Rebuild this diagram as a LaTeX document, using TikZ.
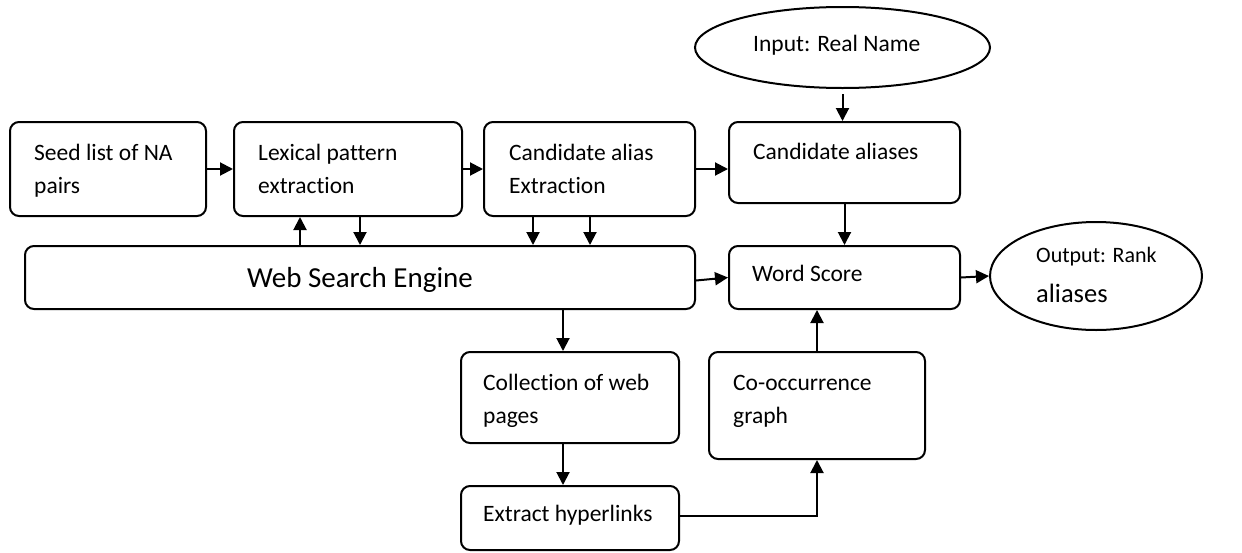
\documentclass[tikz,border=0pt]{standalone}
\usepackage{fontspec}
\setmainfont[Ligatures=CommonOff]{Carlito}
\usetikzlibrary{arrows.meta,shapes.geometric}
\begin{document}
\begin{tikzpicture}[x=1pt,y=-1pt,
  box/.style={draw,line width=2pt,rounded corners=9pt,inner sep=0pt},
  oval/.style={draw,line width=2pt,ellipse,inner sep=0pt},
  arr/.style={line width=2pt,-{Triangle[length=13pt,width=13pt]}},
  lbl/.style={anchor=base west,inner sep=0pt,align=left,font=\fontsize{23.5}{33}\selectfont}]
\useasboundingbox (0,0) rectangle (1242,552);

% boxes
\node[box,minimum width=196pt,minimum height=94pt] (seed) at (108,169) {};
\node[box,minimum width=228pt,minimum height=94pt] (lex) at (348,169) {};
\node[box,minimum width=211pt,minimum height=94pt] (cae) at (589.5,169) {};
\node[box,minimum width=231pt,minimum height=81pt] (ca) at (844.5,162.5) {};
\node[oval,minimum width=295pt,minimum height=81pt] (inp) at (842.5,47.5) {};
\node[box,minimum width=670pt,minimum height=63pt] (wse) at (360,277.5) {};
\node[box,minimum width=231pt,minimum height=63pt] (ws) at (844.5,277.5) {};
\node[oval,minimum width=212pt,minimum height=108pt] (out) at (1096,276) {};
\node[box,minimum width=218pt,minimum height=91pt] (coll) at (570,397.5) {};
\node[box,minimum width=218pt,minimum height=64pt] (ext) at (570,518) {};
\node[box,minimum width=216pt,minimum height=107pt] (cooc) at (817,405.5) {};

% labels (base anchor sits on the last line of each label)
\node[lbl] (tseed) at (34,193) {Seed list of NA\\pairs};
\node[lbl] (tlex) at (258,193) {Lexical pattern\\extraction};
\node[lbl] (tcae) at (509,193) {Candidate alias\\Extraction};
\node[lbl] (tca) at (753,159) {Candidate aliases};
\node[lbl] (tinp) at (753,51) {Input: Real Name};
\node[anchor=base,inner sep=0pt,font=\fontsize{29}{33}\selectfont] (twse) at (360,287.5) {Web Search Engine};
\node[lbl] (tws) at (752,281) {Word Score};
\node[anchor=base west,inner sep=0pt,font=\fontsize{22}{26}\selectfont] (tout1) at (1036,262) {Output: Rank};
\node[anchor=base west,inner sep=0pt,font=\fontsize{26.5}{30}\selectfont] (tout2) at (1036,302) {aliases};
\node[lbl] (tcoll) at (483,423) {Collection of web\\pages};
\node[lbl] (tcooc) at (733,423) {Co-occurrence\\graph};
\node[lbl] (text) at (483,521) {Extract hyperlinks};

% connectors
\draw[arr] (seed.east) -- (lex.west);
\draw[arr] (lex.east) -- (cae.west);
\draw[arr] (cae.east) -- (cae.east -| ca.west);
\draw[arr,shorten <=5pt] (inp.south) -- (inp.south |- ca.north);
\draw[arr] ([xshift=-48pt]lex.south |- wse.north) -- ([xshift=-48pt]lex.south);
\draw[arr] ([xshift=12pt]lex.south) -- ([xshift=12pt]lex.south |- wse.north);
\draw[arr] ([xshift=-56.5pt]cae.south) -- ([xshift=-56.5pt]cae.south |- wse.north);
\draw[arr] ([xshift=0.5pt]cae.south) -- ([xshift=0.5pt]cae.south |- wse.north);
\draw[arr] (ca.south) -- (ws.north);
\draw[arr] ([yshift=-3pt]wse.east) -- (ws.west);
\draw[arr] (ws.east) -- (out.west);
\draw[arr] ([xshift=-7pt]coll.north |- wse.south) -- ([xshift=-7pt]coll.north);
\draw[arr] ([xshift=-7pt]coll.south) -- ([xshift=-7pt]ext.north);
\draw[arr] ([yshift=2pt]ext.east) -| (cooc.south);
\draw[arr] (cooc.north) -- (cooc.north |- ws.south);
\end{tikzpicture}
\end{document}
